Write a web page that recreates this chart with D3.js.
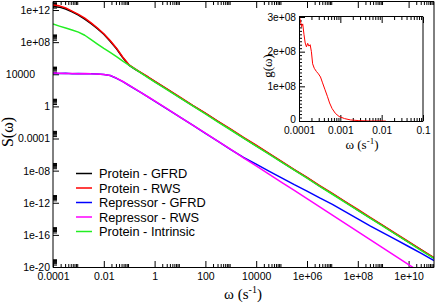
<!DOCTYPE html>
<html>
<head>
<meta charset="utf-8">
<script src="https://cdnjs.cloudflare.com/ajax/libs/d3/7.8.5/d3.min.js"></script>
<style>
  html, body { margin: 0; padding: 0; background: #fff; }
  svg { display: block; }
</style>
</head>
<body>
<svg id="chart" width="436" height="305"></svg>
<script>
// main panel: pairs of [log10 omega, log10 S(omega)]
var proteinGFRD = [[-4,12.45],[-3.75,12.36],[-3.5,12.12],[-3.25,11.78],[-3,11.38],[-2.75,10.88],[-2.5,10.3],[-2.25,9.68],[-2,8.98],[-1.75,8.12],[-1.5,7.18],[-1.25,6.05],[-1,5.1],[-0.75,4.58],[-0.5,4.1],[-0.25,3.6],[0,3.1],[0.5,2.12],[1,1.08],[1.5,0.1],[2,-0.88],[2.5,-1.9],[3,-2.88],[3.5,-3.92],[4,-4.9],[4.5,-5.88],[5,-6.92],[5.5,-7.9],[6,-8.88],[6.5,-9.92],[7,-10.9],[7.5,-11.88],[8,-12.92],[8.5,-13.9],[9,-14.88],[9.5,-15.92],[10,-16.9],[10.5,-17.88],[11,-18.9]];
var proteinRWS = [[-4,12.62],[-3.75,12.52],[-3.5,12.26],[-3.25,11.86],[-3,11.46],[-2.75,10.98],[-2.5,10.4],[-2.25,9.76],[-2,9.05],[-1.75,8.2],[-1.5,7.25],[-1.25,6.12],[-1,5.16],[-0.75,4.64],[-0.5,4.14],[-0.25,3.66],[0,3.14],[0.5,2.16],[1,1.16],[1.5,0.12],[2,-0.84],[2.5,-1.86],[3,-2.84],[3.5,-3.86],[4,-4.84],[4.5,-5.86],[5,-6.84],[5.5,-7.86],[6,-8.84],[6.5,-9.86],[7,-10.84],[7.5,-11.86],[8,-12.84],[8.5,-13.86],[9,-14.84],[9.5,-15.86],[10,-16.84],[10.5,-17.86],[11,-18.84]];
var repressorGFRD = [[-4,4.12],[-3.75,4.1],[-3.5,4.12],[-3.25,4.08],[-3,4.1],[-2.75,4.06],[-2.5,4.07],[-2.25,4.02],[-2,3.96],[-1.75,3.84],[-1.5,3.5],[-1.25,3.08],[-1,2.6],[-0.75,2.12],[-0.5,1.64],[-0.25,1.15],[0,0.66],[0.5,-0.34],[1,-1.35],[1.5,-2.34],[2,-3.36],[2.5,-4.36],[3,-5.37],[3.5,-6.36],[4,-7.2],[4.5,-8.05],[5,-8.9],[5.5,-9.75],[6,-10.55],[6.5,-11.4],[7,-12.2],[7.5,-13.1],[8,-14.0],[8.5,-14.9],[9,-15.75],[9.5,-16.6],[10,-17.45],[10.5,-18.3],[11,-19.2]];
var repressorRWS = [[-4,4.15],[-3.75,4.13],[-3.5,4.1],[-3.25,4.11],[-3,4.08],[-2.75,4.09],[-2.5,4.05],[-2.25,4.03],[-2,3.98],[-1.75,3.86],[-1.5,3.52],[-1.25,3.1],[-1,2.62],[-0.75,2.14],[-0.5,1.66],[-0.25,1.17],[0,0.68],[0.5,-0.32],[1,-1.33],[1.5,-2.33],[2,-3.34],[2.5,-4.35],[3,-5.35],[3.5,-6.4],[4,-7.4],[4.5,-8.42],[5,-9.45],[5.5,-10.47],[6,-11.5],[6.5,-12.52],[7,-13.55],[7.5,-14.58],[8,-15.6],[8.5,-16.62],[9,-17.65],[9.5,-18.68],[10,-19.7],[10.5,-20.72]];
var proteinIntrinsic = [[-4,10.25],[-3.75,10.0],[-3.5,9.76],[-3.25,9.52],[-3,9.25],[-2.75,8.86],[-2.5,8.32],[-2.25,7.76],[-2,7.22],[-1.75,6.72],[-1.5,6.2],[-1.25,5.64],[-1,5.12],[-0.75,4.6],[-0.5,4.08],[-0.25,3.56],[0,3.06],[0.5,2.05],[1,1.06],[1.5,0.05],[2,-0.94],[2.5,-1.95],[3,-2.94],[3.5,-3.95],[4,-4.94],[4.5,-5.95],[5,-6.94],[5.5,-7.95],[6,-8.94],[6.5,-9.95],[7,-10.94],[7.5,-11.95],[8,-12.94],[8.5,-13.95],[9,-14.94],[9.5,-15.95],[10,-16.94],[10.5,-17.95],[11,-18.94]];

var seriesNames = ['Protein - GFRD', 'Protein - RWS', 'Repressor - GFRD', 'Repressor - RWS', 'Protein - Intrinsic'];
var seriesColors = ['#000000', '#ff0000', '#0000ff', '#ff00ff', '#22ee22'];

var xTickLabels = ['0.0001', '0.01', '1', '100', '10000', '1e+06', '1e+08', '1e+10'];
var yTickLabels = ['1e-20', '1e-16', '1e-12', '1e-08', '0.0001', '1', '10000', '1e+08', '1e+12'];

// inset: pairs of [log10 omega, g(omega) in units of 1e8]
var insetG = [[-3.99,3.0],[-3.97,2.92],[-3.94,2.72],[-3.91,2.8],[-3.88,2.5],[-3.85,2.25],[-3.82,2.14],[-3.79,2.24],[-3.76,2.16],[-3.73,2.2],[-3.7,2.0],[-3.67,1.65],[-3.63,1.52],[-3.58,1.43],[-3.53,1.36],[-3.48,1.27],[-3.43,1.1],[-3.37,0.9],[-3.31,0.7],[-3.26,0.52],[-3.2,0.36],[-3.12,0.22],[-3.03,0.13],[-2.9,0.07],[-2.75,0.03],[-2.55,0.01],[-2.3,0.0],[-1.9,0.0]];
var insetXTickLabels = ['0.0001', '0.001', '0.01', '0.1'];
var insetYTickLabels = ['0', '1e+08', '2e+08', '3e+08'];

var svg = d3.select('#chart');
var sans = 'Liberation Sans, Arial, sans-serif';
var serif = 'Liberation Serif, Times New Roman, serif';

var x = d3.scaleLog().domain([1e-4, 1e11]).range([53, 434]);
var y = d3.scaleLog().domain([1e-20, 1e13]).range([267, 2]);

function minorsOf(majors, lo, hi) {
  var out = [];
  majors.forEach(function(m) {
    for (var k = 2; k <= 9; k++) {
      var v = m * k;
      if (v > lo && v < hi) out.push(v);
    }
  });
  return out;
}

function styleAxis(g, size) {
  g.select('.domain').remove();
  g.selectAll('.tick line').attr('stroke', '#000');
  g.selectAll('.tick text')
    .attr('fill', '#000')
    .style('font-family', sans)
    .style('font-size', size + 'px');
}

var xMajor = xTickLabels.map(Number);
var yMajor = yTickLabels.map(Number);
var xMinor = minorsOf(xMajor, 1e-4, 1e11);
var yMinor = minorsOf(yMajor, 1e-20, 1e13);

// main axes, ticks pointing inward
svg.append('g').attr('transform', 'translate(0,267)')
  .call(d3.axisBottom(x).tickValues(xMinor).tickSize(-3).tickFormat(''))
  .call(styleAxis, 10);
svg.append('g').attr('transform', 'translate(0,267)')
  .call(d3.axisBottom(x).tickValues(xMajor).tickSize(-6).tickPadding(6)
    .tickFormat(function(d, i) { return xTickLabels[i]; }))
  .call(styleAxis, 10.5);
svg.append('g').attr('transform', 'translate(0,2)')
  .call(d3.axisTop(x).tickValues(xMinor).tickSize(-3).tickFormat(''))
  .call(styleAxis, 10);
svg.append('g').attr('transform', 'translate(0,2)')
  .call(d3.axisTop(x).tickValues(xMajor).tickSize(-6).tickFormat(''))
  .call(styleAxis, 10);
svg.append('g').attr('transform', 'translate(53,0)')
  .call(d3.axisLeft(y).tickValues(yMinor).tickSize(-4).tickFormat(''))
  .call(styleAxis, 10);
var yAx = svg.append('g').attr('transform', 'translate(53,0)')
  .call(d3.axisLeft(y).tickValues(yMajor).tickSize(-6).tickPadding(3)
    .tickFormat(function(d, i) { return yTickLabels[i]; }))
  .call(styleAxis, 10.5);
yAx.selectAll('.tick text').filter(function(d) { return d === 1e4; }).attr('x', -18);

// data lines
svg.append('clipPath').attr('id', 'plotClip')
  .append('rect').attr('x', 53).attr('y', 2).attr('width', 381).attr('height', 265);

var line = d3.line()
  .x(function(d) { return x(Math.pow(10, d[0])); })
  .y(function(d) { return y(Math.pow(10, d[1])); });

var allSeries = [proteinGFRD, proteinRWS, repressorGFRD, repressorRWS, proteinIntrinsic];
svg.append('g').attr('clip-path', 'url(#plotClip)')
  .selectAll('path')
  .data(allSeries)
  .enter()
  .append('path')
  .attr('d', line)
  .attr('fill', 'none')
  .attr('stroke', function(d, i) { return seriesColors[i]; })
  .attr('stroke-width', 1.5)
  .attr('stroke-linejoin', 'round');

// frame
var frame = svg.append('g').attr('stroke', '#000').attr('stroke-width', 1);
frame.append('line').attr('x1', 53).attr('x2', 434).attr('y1', 267.5).attr('y2', 267.5);
frame.append('line').attr('x1', 53).attr('x2', 434).attr('y1', 1.5).attr('y2', 1.5);
frame.append('line').attr('x1', 53).attr('x2', 53).attr('y1', 1.5).attr('y2', 267.5);
frame.append('line').attr('x1', 434).attr('x2', 434).attr('y1', 1.5).attr('y2', 267.5);

// axis titles
svg.append('text')
  .attr('transform', 'translate(13,132) rotate(-90)')
  .attr('text-anchor', 'middle')
  .style('font-family', serif).style('font-size', '16px')
  .text('S(\u03c9)');

var xt = svg.append('text')
  .attr('x', 243).attr('y', 299)
  .attr('text-anchor', 'middle')
  .style('font-family', serif).style('font-size', '15px');
xt.append('tspan').text('\u03c9 (s');
xt.append('tspan').attr('dy', -6).style('font-size', '10px').text('-1');
xt.append('tspan').attr('dy', 6).text(')');

// legend
var legend = svg.append('g');
seriesNames.forEach(function(name, i) {
  var ly = 173.5 + i * 14.5;
  legend.append('line')
    .attr('x1', 76).attr('x2', 92).attr('y1', ly).attr('y2', ly)
    .attr('stroke', seriesColors[i]).attr('stroke-width', 1.5);
  legend.append('text')
    .attr('x', 99).attr('y', ly + 4.5)
    .style('font-family', sans).style('font-size', '12.8px')
    .text(name);
});

// inset
var ix = d3.scaleLog().domain([1e-4, 0.1]).range([299, 423]);
var iy = d3.scaleLinear().domain([0, 3e8]).range([121, 17]);

svg.append('rect').attr('x', 299).attr('y', 17).attr('width', 124).attr('height', 104).attr('fill', '#fff');

var ixMajor = insetXTickLabels.map(Number);
var iyMajor = insetYTickLabels.map(Number);
var ixMinor = minorsOf(ixMajor, 1e-4, 0.1);
var iyMinor = d3.range(1, 30).map(function(k) { return k * 1e7; }).filter(function(v) { return v % 1e8 !== 0; });

svg.append('g').attr('transform', 'translate(0,121)')
  .call(d3.axisBottom(ix).tickValues(ixMinor).tickSize(-3).tickFormat(''))
  .call(styleAxis, 10);
svg.append('g').attr('transform', 'translate(0,121)')
  .call(d3.axisBottom(ix).tickValues(ixMajor).tickSize(-6).tickPadding(6)
    .tickFormat(function(d, i) { return insetXTickLabels[i]; }))
  .call(styleAxis, 10.2);
svg.append('g').attr('transform', 'translate(0,17)')
  .call(d3.axisTop(ix).tickValues(ixMinor).tickSize(-3).tickFormat(''))
  .call(styleAxis, 10);
svg.append('g').attr('transform', 'translate(0,17)')
  .call(d3.axisTop(ix).tickValues(ixMajor).tickSize(-6).tickFormat(''))
  .call(styleAxis, 10);
svg.append('g').attr('transform', 'translate(299,0)')
  .call(d3.axisLeft(iy).tickValues(iyMinor).tickSize(-3).tickFormat(''))
  .call(styleAxis, 10);
var iyAx = svg.append('g').attr('transform', 'translate(299,0)')
  .call(d3.axisLeft(iy).tickValues(iyMajor).tickSize(-6).tickPadding(3)
    .tickFormat(function(d, i) { return insetYTickLabels[i]; }))
  .call(styleAxis, 10.2);
iyAx.selectAll('.tick text').filter(function(d) { return d === 0; }).attr('dy', '0.1em');

var iline = d3.line()
  .x(function(d) { return ix(Math.pow(10, d[0])); })
  .y(function(d) { return iy(d[1] * 1e8); });
svg.append('path')
  .datum(insetG)
  .attr('d', iline)
  .attr('fill', 'none')
  .attr('stroke', '#ff0000')
  .attr('stroke-width', 1);

var iframe = svg.append('g').attr('stroke', '#000').attr('stroke-width', 1);
iframe.append('line').attr('x1', 299).attr('x2', 423).attr('y1', 121.5).attr('y2', 121.5);
iframe.append('line').attr('x1', 299).attr('x2', 423).attr('y1', 16.5).attr('y2', 16.5);
iframe.append('line').attr('x1', 299.5).attr('x2', 299.5).attr('y1', 16.5).attr('y2', 121.5);
iframe.append('line').attr('x1', 423).attr('x2', 423).attr('y1', 16.5).attr('y2', 121.5);

svg.append('text')
  .attr('transform', 'translate(271.5,66) rotate(-90)')
  .attr('text-anchor', 'middle')
  .style('font-family', serif).style('font-size', '13px')
  .text('g(\u03c9)');

var it = svg.append('text')
  .attr('x', 362).attr('y', 149)
  .attr('text-anchor', 'middle')
  .style('font-family', serif).style('font-size', '13px');
it.append('tspan').text('\u03c9 (s');
it.append('tspan').attr('dy', -5).style('font-size', '9px').text('-1');
it.append('tspan').attr('dy', 5).text(')');
</script>
</body>
</html>
